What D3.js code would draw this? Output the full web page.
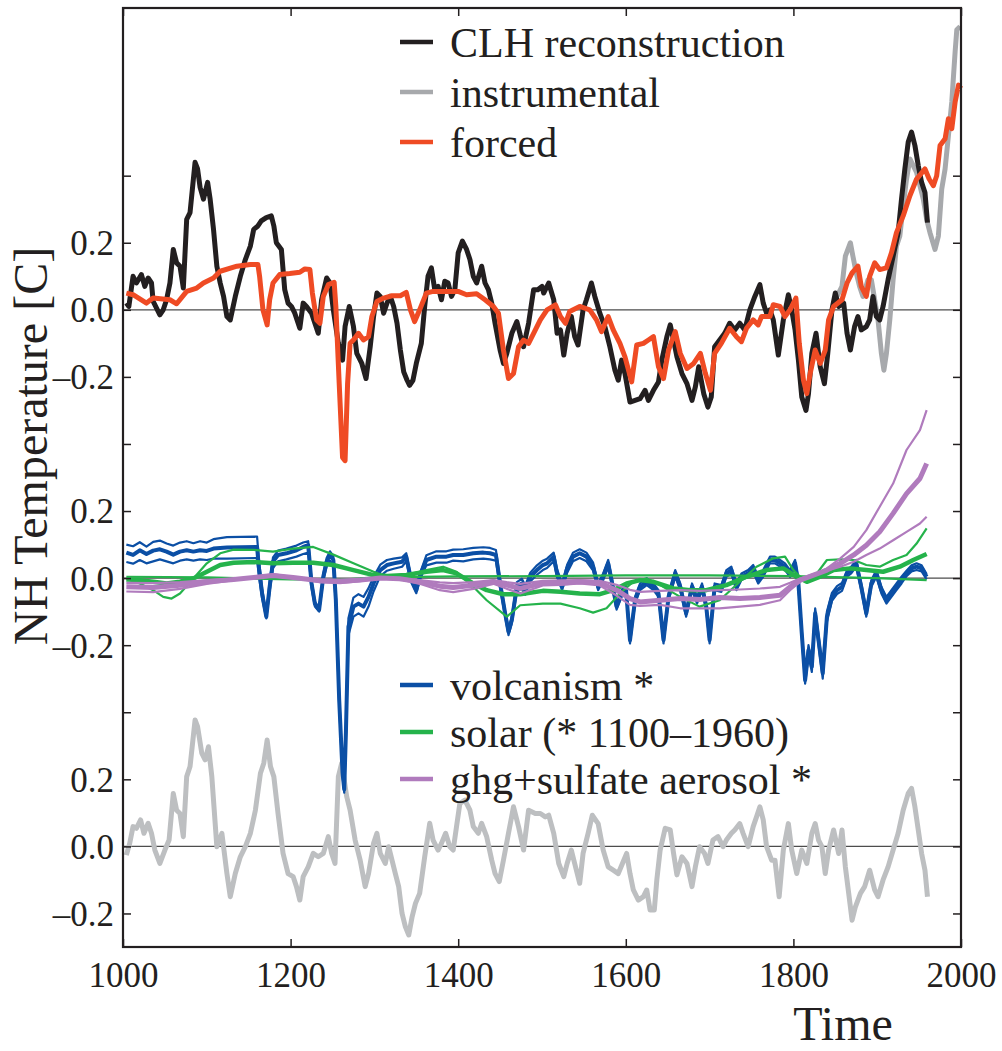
<!DOCTYPE html>
<html>
<head>
<meta charset="utf-8">
<script src="https://cdn.jsdelivr.net/npm/d3@7"></script>
<style>
  body { margin: 0; background: #fff; }
  svg { display: block; }
  svg text { font-family: "Liberation Serif", "DejaVu Serif", "Times New Roman", serif; }
</style>
</head>
<body>
<div id="chart"></div>
<script>
// ---- data, [year, value] ----
const CLH = [[1004,.02],[1007,.01],[1012,.10],[1016,.08],[1022,.105],[1026,.07],[1030,.095],[1034,.08],[1036,.025],[1044,-.015],[1048,0],[1052,.03],[1056,.08],[1060,.18],[1064,.14],[1068,.13],[1072,.065],[1076,.27],[1080,.29],[1086,.44],[1089,.42],[1092,.365],[1096,.33],[1101,.38],[1104,.33],[1108,.24],[1112,.13],[1116,.08],[1120,.04],[1124,-.02],[1128,-.03],[1134,.04],[1140,.10],[1146,.15],[1152,.19],[1156,.24],[1161,.25],[1165,.265],[1171,.275],[1177,.28],[1180,.25],[1183,.20],[1189,.18],[1193,.06],[1197,.02],[1201,.01],[1205,-.01],[1211,-.055],[1215,.02],[1219,.01],[1225,-.01],[1229,-.04],[1233,-.07],[1237,.03],[1243,.095],[1247,.08],[1251,0],[1257,-.10],[1262,-.15],[1265,-.05],[1270,.01],[1275,-.05],[1279,-.13],[1285,-.16],[1290,-.205],[1295,-.11],[1299,-.02],[1303,.05],[1307,.04],[1311,-.01],[1315,.02],[1319,.04],[1323,.01],[1327,-.04],[1331,-.12],[1335,-.185],[1339,-.21],[1342,-.225],[1346,-.21],[1350,-.16],[1356,-.10],[1360,.01],[1364,.10],[1368,.125],[1372,.06],[1376,.07],[1380,.03],[1384,.085],[1388,.08],[1392,.04],[1396,.06],[1400,.17],[1405,.205],[1410,.18],[1414,.15],[1418,.10],[1422,.08],[1428,.13],[1432,.08],[1436,.06],[1440,.02],[1444,-.04],[1450,-.12],[1454,-.16],[1458,-.13],[1464,-.07],[1470,-.035],[1474,-.075],[1478,-.11],[1484,-.04],[1490,.06],[1495,.06],[1500,.07],[1502,.05],[1508,.08],[1514,.03],[1518,-.07],[1522,-.06],[1526,-.135],[1530,-.07],[1535,-.02],[1539,-.08],[1543,-.105],[1549,0],[1553,.03],[1559,.08],[1563,.04],[1569,-.01],[1575,-.05],[1581,-.11],[1587,-.18],[1591,-.21],[1595,-.15],[1599,-.19],[1605,-.275],[1611,-.27],[1617,-.265],[1623,-.24],[1627,-.27],[1633,-.24],[1639,-.215],[1643,-.15],[1649,-.08],[1653,-.045],[1657,-.09],[1661,-.14],[1667,-.19],[1673,-.22],[1679,-.27],[1683,-.23],[1687,-.17],[1693,-.25],[1698,-.29],[1702,-.26],[1706,-.11],[1712,-.09],[1718,-.07],[1724,-.04],[1730,-.06],[1736,-.04],[1742,-.06],[1748,0],[1754,.04],[1760,.075],[1764,.02],[1768,-.01],[1772,0],[1776,-.03],[1782,-.135],[1788,-.03],[1794,.045],[1798,0],[1802,-.06],[1806,-.15],[1810,-.26],[1815,-.30],[1818,-.25],[1822,-.13],[1827,-.07],[1832,-.17],[1837,-.22],[1841,-.13],[1846,0],[1850,.05],[1854,.01],[1860,.02],[1864,-.07],[1868,-.12],[1873,-.05],[1877,-.02],[1881,-.06],[1887,-.05],[1891,-.03],[1895,.04],[1899,-.02],[1903,-.03],[1907,.01],[1913,.09],[1919,.16],[1925,.23],[1929,.33],[1933,.42],[1937,.50],[1941,.53],[1945,.49],[1949,.43],[1953,.38],[1957,.35],[1960,.26]];

const instrumental = [[1852,.04],[1858,.07],[1862,.16],[1868,.20],[1871,.16],[1875,.11],[1879,.07],[1883,.04],[1889,.09],[1893,.09],[1897,.03],[1901,-.03],[1905,-.13],[1908,-.18],[1911,-.13],[1915,-.03],[1919,.09],[1923,.19],[1927,.22],[1931,.31],[1935,.39],[1939,.45],[1943,.43],[1947,.41],[1951,.37],[1955,.33],[1959,.27],[1963,.23],[1969,.18],[1973,.22],[1977,.36],[1981,.42],[1985,.52],[1989,.62],[1993,.77],[1995,.835],[1999,.845]];

const forced = [[1004,.05],[1012,.045],[1028,.02],[1036,.035],[1056,.03],[1064,.018],[1076,.055],[1088,.065],[1096,.08],[1108,.095],[1116,.115],[1136,.13],[1152,.135],[1161,.135],[1163,.10],[1167,0],[1172,-.045],[1175,.03],[1179,.08],[1187,.105],[1199,.108],[1211,.112],[1217,.122],[1223,.12],[1226,.05],[1231,-.03],[1235,-.04],[1239,.04],[1245,.075],[1252,.082],[1254,.01],[1258,-.22],[1262,-.44],[1265,-.45],[1268,-.22],[1271,-.10],[1275,-.09],[1281,-.07],[1287,-.09],[1293,-.08],[1297,-.02],[1303,.025],[1311,.035],[1321,.042],[1331,.042],[1338,.052],[1343,0],[1348,-.035],[1354,0],[1362,.05],[1370,.055],[1386,.055],[1400,.055],[1410,.045],[1422,.048],[1432,.03],[1442,.01],[1448,-.01],[1454,-.12],[1460,-.205],[1466,-.19],[1472,-.11],[1478,-.09],[1484,-.10],[1490,-.07],[1498,-.03],[1506,0],[1516,.015],[1522,-.02],[1528,-.04],[1533,-.005],[1545,.01],[1557,0],[1565,-.03],[1571,-.065],[1579,-.02],[1585,-.06],[1593,-.10],[1599,-.14],[1607,-.215],[1613,-.105],[1621,-.10],[1627,-.09],[1633,-.08],[1639,-.17],[1645,-.205],[1651,-.12],[1659,-.065],[1665,-.13],[1673,-.175],[1681,-.16],[1689,-.13],[1695,-.19],[1701,-.24],[1706,-.13],[1714,-.10],[1724,-.055],[1732,-.08],[1738,-.095],[1744,-.055],[1752,-.03],[1758,-.045],[1762,-.02],[1772,-.02],[1776,.015],[1784,.01],[1790,-.02],[1796,0],[1803,.035],[1807,-.10],[1812,-.21],[1816,-.25],[1820,-.19],[1826,-.12],[1832,-.16],[1838,-.12],[1842,-.03],[1848,.01],[1858,.03],[1864,.08],[1870,.11],[1877,.13],[1881,.07],[1887,.04],[1891,.10],[1897,.14],[1903,.12],[1911,.125],[1917,.17],[1923,.23],[1931,.28],[1939,.34],[1947,.39],[1957,.42],[1962,.39],[1967,.37],[1971,.40],[1975,.49],[1981,.51],[1985,.57],[1989,.54],[1993,.62],[1997,.67],[2000,.66]];

// volcanism rows: [year, lower, best, upper]
const volcanism = [[1004,.048,.076,.100],[1012,.043,.069,.095],[1020,.054,.083,.107],[1028,.044,.072,.094],[1036,.050,.082,.108],[1044,.056,.086,.112],[1052,.050,.079,.103],[1060,.044,.070,.097],[1068,.052,.079,.106],[1076,.056,.083,.110],
[1084,.052,.079,.104],[1092,.056,.083,.110],[1100,.054,.081,.106],[1108,.058,.088,.116],[1124,.058,.091,.122],[1160,.060,.093,.124],[1162,.01,.034,.06],[1166,-.06,-.046,-.03],[1171,-.12,-.115,-.11],[1175,-.04,-.026,-.01],
[1179,.030,.049,.062],[1185,.050,.069,.082],[1195,.056,.074,.088],[1207,.064,.083,.097],[1215,.072,.093,.106],[1221,.076,.098,.110],[1225,-.03,-.016,-.005],[1229,-.085,-.076,-.07],[1234,-.10,-.095,-.09],[1239,-.008,.004,.012],
[1243,.034,.049,.060],[1247,.052,.069,.080],[1251,.038,.054,.066],[1254,-.08,-.066,-.05],[1258,-.38,-.364,-.35],[1262,-.59,-.58,-.57],[1264,-.64,-.63,-.62],[1266,-.48,-.46,-.44],[1269,-.17,-.145,-.12],[1275,-.115,-.085,-.058],
[1281,-.105,-.076,-.048],[1287,-.115,-.085,-.056],[1293,-.085,-.056,-.03],[1299,-.04,-.016,.004],[1307,.006,.024,.040],[1315,.022,.039,.054],[1323,.028,.044,.058],[1333,.034,.049,.062],[1338,.050,.064,.074],[1343,-.008,.004,.012],
[1350,-.045,-.036,-.03],[1354,-.006,.004,.012],[1362,.038,.054,.068],[1374,.046,.064,.080],[1386,.046,.064,.080],[1394,.052,.069,.085],[1406,.050,.069,.086],[1418,.056,.074,.090],[1430,.058,.076,.092],[1438,.056,.074,.090],
[1445,.052,.069,.084],[1450,-.03,-.016,-.005],[1456,-.115,-.105,-.098],[1460,-.17,-.16,-.15],[1464,-.135,-.125,-.115],[1470,-.04,-.026,-.012],[1476,-.032,-.016,-.002],[1480,-.05,-.036,-.022],[1486,-.01,.004,.016],[1494,.010,.024,.038],
[1501,.024,.039,.052],[1506,.030,.044,.058],[1514,.050,.064,.076],[1518,.002,.014,.026],[1524,-.036,-.026,-.016],[1530,.016,.029,.040],[1537,.050,.064,.076],[1545,.060,.074,.086],[1553,.050,.064,.076],[1561,.022,.034,.046],
[1567,-.036,-.026,-.016],[1573,-.006,.004,.014],[1579,.032,.044,.054],[1583,-.016,-.006,.004],[1589,-.094,-.085,-.078],[1595,-.056,-.046,-.036],[1600,-.036,-.026,-.016],[1605,-.195,-.185,-.175],[1611,-.076,-.066,-.056],[1617,-.036,-.026,-.016],
[1625,-.021,-.011,-.001],[1633,-.036,-.026,-.016],[1639,-.056,-.046,-.036],[1645,-.195,-.185,-.175],[1651,-.066,-.056,-.046],[1659,.004,.014,.024],[1665,-.036,-.026,-.016],[1672,-.115,-.105,-.095],[1679,-.036,-.026,-.016],[1685,-.076,-.066,-.056],
[1691,-.036,-.026,-.016],[1696,-.095,-.085,-.075],[1700,-.195,-.185,-.175],[1706,-.036,-.026,-.016],[1714,-.041,-.031,-.021],[1720,.004,.014,.024],[1726,.014,.024,.034],[1732,-.036,-.026,-.016],[1738,-.006,.004,.014],[1746,.004,.014,.024],
[1752,.019,.029,.039],[1758,-.016,-.006,.004],[1764,.004,.014,.024],[1772,.044,.054,.064],[1778,.044,.054,.064],[1784,.034,.044,.054],[1790,.024,.034,.044],[1796,.004,.014,.024],[1802,.034,.044,.054],[1806,-.026,-.016,-.006],
[1810,-.175,-.165,-.155],[1814,-.315,-.304,-.29],[1818,-.23,-.215,-.20],[1822,-.28,-.264,-.25],[1826,-.12,-.105,-.09],[1830,-.20,-.185,-.17],[1835,-.30,-.284,-.27],[1840,-.13,-.115,-.10],[1846,-.068,-.056,-.044],[1852,-.048,-.036,-.024],
[1858,-.038,-.026,-.014],[1864,.004,.014,.024],[1869,.014,.024,.034],[1875,.034,.044,.054],[1881,-.036,-.026,-.016],[1887,-.115,-.105,-.095],[1893,-.026,-.016,-.006],[1899,.004,.014,.024],[1905,-.046,-.036,-.026],[1911,-.076,-.066,-.056],
[1917,-.056,-.046,-.036],[1923,-.036,-.026,-.016],[1929,-.016,-.006,.004],[1935,.006,.014,.022],[1941,.020,.029,.038],[1947,.024,.034,.044],[1953,.020,.029,.038],[1959,-.004,.004,.012]];

const solarBest = [[1004,-.004],[1020,-.006],[1036,-.011],[1052,-.016],[1068,-.011],[1084,-.001],[1100,.019],[1116,.039],[1132,.046],[1156,.048],[1179,.044],[1203,.046],[1227,.046],[1251,.039],[1275,.024],[1299,.009],[1315,.006],[1338,.009],[1362,.019],[1382,.024],[1398,.014],[1418,-.016],[1434,-.036],[1454,-.048],[1474,-.048],[1501,-.038],[1522,-.041],[1545,-.046],[1569,-.048],[1585,-.036],[1601,-.016],[1617,-.006],[1633,-.011],[1657,-.031],[1677,-.036],[1696,-.036],[1720,-.021],[1744,.004],[1768,.024],[1788,.029],[1804,.004],[1816,-.011],[1832,.004],[1848,.024],[1868,.029],[1887,.024],[1907,.019],[1927,.034],[1943,.054],[1959,.072]];
const solarHigh = [[1004,-.001],[1020,-.016],[1036,-.036],[1048,-.056],[1058,-.061],[1068,-.046],[1084,-.001],[1100,.044],[1116,.074],[1132,.085],[1156,.084],[1179,.079],[1203,.088],[1227,.093],[1251,.07],[1275,.044],[1299,.019],[1315,.004],[1338,.009],[1362,.024],[1382,.034],[1398,.019],[1418,-.026],[1434,-.066],[1458,-.115],[1474,-.081],[1501,-.076],[1522,-.076],[1545,-.09],[1561,-.103],[1577,-.09],[1593,-.046],[1609,-.011],[1625,-.001],[1641,-.021],[1665,-.056],[1688,-.085],[1712,-.066],[1736,-.011],[1756,.034],[1776,.059],[1790,.064],[1800,.024],[1812,-.006],[1828,.014],[1840,.054],[1856,.056],[1872,.054],[1887,.039],[1903,.034],[1919,.054],[1935,.069],[1947,.103],[1959,.148]];
const solarLow = [[1004,.004],[1100,.002],[1200,-.004],[1260,-.005],[1300,.002],[1400,.005],[1500,.006],[1600,.008],[1700,.008],[1800,.006],[1900,0],[1959,-.006]];

// ghg+sulfate rows: [year, low scaling, best, high scaling]
const ghgAerosol = [[1004,-.014,-.026,-.04],[1036,-.015,-.028,-.042],[1068,-.012,-.021,-.032],[1100,-.006,-.011,-.017],[1132,-.002,-.004,-.006],[1164,.002,.004,.006],[1179,.004,.008,.012],[1203,.001,.002,.003],[1235,-.004,-.008,-.012],[1259,-.005,-.01,-.015],[1283,-.003,-.006,-.009],[1307,0,0,0],[1330,-.001,-.002,-.003],[1354,-.006,-.011,-.017],[1378,-.013,-.024,-.036],[1394,-.015,-.028,-.042],[1418,-.012,-.021,-.032],[1442,-.006,-.011,-.017],[1458,-.012,-.021,-.032],[1474,-.017,-.031,-.046],[1501,-.008,-.015,-.022],[1522,-.007,-.015,-.02],[1545,-.006,-.011,-.016],[1569,-.008,-.014,-.022],[1589,-.02,-.036,-.052],[1605,-.035,-.061,-.08],[1617,-.041,-.071,-.083],[1641,-.038,-.066,-.08],[1665,-.036,-.061,-.09],[1688,-.038,-.064,-.09],[1712,-.036,-.058,-.09],[1736,-.034,-.061,-.085],[1760,-.031,-.058,-.08],[1784,-.026,-.051,-.066],[1796,-.014,-.026,-.036],[1808,-.001,-.006,-.011],[1824,.012,.009,.009],[1840,.022,.024,.029],[1856,.034,.044,.059],[1872,.049,.069,.093],[1887,.069,.098,.143],[1903,.088,.138,.213],[1919,.113,.193,.282],[1935,.138,.252,.382],[1951,.163,.297,.441],[1959,.183,.342,.501]];

// residual (lower panel)
const residual = [[1004,-.026],[1008,.009],[1012,.059],[1016,.054],[1021,.079],[1025,.039],[1030,.069],[1034,.039],[1038,-.011],[1044,-.051],[1050,-.011],[1055,.019],[1060,.158],[1064,.108],[1068,.098],[1072,.029],[1076,.208],[1080,.238],[1086,.377],[1089,.357],[1094,.278],[1098,.258],[1102,.297],[1106,.208],[1112,-.001],[1118,.039],[1124,-.081],[1128,-.15],[1134,-.081],[1140,-.031],[1146,-.001],[1152,.039],[1158,.108],[1164,.218],[1168,.248],[1172,.317],[1176,.238],[1180,.208],[1185,.098],[1191,-.021],[1197,-.081],[1203,-.09],[1207,-.12],[1211,-.16],[1215,-.09],[1221,-.061],[1227,-.021],[1233,-.031],[1239,-.021],[1245,.029],[1249,-.021],[1253,-.051],[1257,.208],[1261,.248],[1267,.148],[1271,.108],[1277,.019],[1283,-.041],[1289,-.12],[1293,-.081],[1299,.009],[1303,.039],[1307,-.021],[1313,-.051],[1317,-.001],[1321,-.041],[1325,-.081],[1329,-.12],[1333,-.2],[1337,-.24],[1341,-.264],[1345,-.21],[1349,-.17],[1354,-.14],[1360,-.031],[1366,.069],[1370,.019],[1376,-.011],[1380,.009],[1385,.039],[1390,-.001],[1394,-.011],[1398,.059],[1402,.128],[1408,.138],[1414,.108],[1418,.059],[1424,.039],[1428,.069],[1434,.029],[1440,-.041],[1444,-.081],[1449,-.105],[1454,-.041],[1460,.039],[1466,.118],[1472,.059],[1478,-.011],[1484,.108],[1492,.098],[1498,.098],[1504,.088],[1508,.093],[1514,.039],[1520,-.051],[1526,-.09],[1530,-.051],[1535,-.011],[1539,-.051],[1545,-.11],[1549,-.021],[1555,.039],[1560,.093],[1567,.068],[1573,-.011],[1579,-.061],[1585,-.071],[1591,-.081],[1596,-.051],[1601,-.021],[1605,-.081],[1609,-.13],[1615,-.16],[1621,-.15],[1625,-.13],[1629,-.19],[1634,-.19],[1637,-.10],[1641,-.011],[1647,.054],[1653,.049],[1657,-.021],[1661,-.085],[1667,-.031],[1673,-.051],[1679,-.12],[1683,-.061],[1688,-.001],[1694,-.021],[1698,-.051],[1704,.019],[1710,.029],[1716,-.001],[1720,.019],[1726,.039],[1730,.049],[1736,.068],[1740,.039],[1746,-.001],[1752,.059],[1756,.088],[1760,.118],[1764,.079],[1768,-.001],[1774,-.041],[1778,-.041],[1783,-.15],[1788,-.011],[1794,.068],[1798,-.011],[1804,-.081],[1810,-.011],[1816,-.051],[1822,.039],[1826,.068],[1830,.019],[1834,-.001],[1838,-.081],[1842,-.011],[1848,.049],[1854,-.021],[1858,.049],[1862,-.061],[1866,-.14],[1870,-.22],[1874,-.18],[1880,-.14],[1885,-.12],[1891,-.071],[1897,-.13],[1901,-.15],[1907,-.10],[1913,-.061],[1919,-.011],[1925,.039],[1931,.108],[1937,.158],[1941,.173],[1945,.118],[1949,.049],[1953,-.021],[1957,-.071],[1960,-.15]];

const xTicks = [1000, 1200, 1400, 1600, 1800, 2000];
const yTicks = [-0.2, 0, 0.2, 0.4, 0.6, 0.8, 1.0, 1.2, 1.4, 1.6, 1.8, 2.0];
// panel zero levels on the stacked axis
const OFFSET = { top: 1.6, mid: 0.8, bottom: 0 };

const legendTop = ["CLH reconstruction", "instrumental", "forced"];
const legendBottom = ["volcanism *", "solar (* 1100\u20131960)", "ghg+sulfate aerosol *"];

// ---- layout ----
const W = 1002, H = 1051;
const FRAME = { left: 123, right: 961, top: 8, bottom: 947 };
const C = {
    ink: "#231f20", black: "#231f20", instr: "#a7a9ac", forced: "#ef4b24",
    blue: "#0b4fa5", green: "#25b34b", purple: "#b07bbd", resid: "#bdbfc1", zero: "#4d4d4d"
};

const svg = d3.select("#chart").append("svg")
    .attr("width", W).attr("height", H);

const x = d3.scaleLinear().domain([1000, 2000]).range([FRAME.left, FRAME.right]);
const y = d3.scaleLinear().domain([-0.3, 2.5]).range([FRAME.bottom, FRAME.top]);

// zero lines
svg.append("g").selectAll("line")
    .data([OFFSET.top, OFFSET.mid, OFFSET.bottom])
    .enter().append("line")
    .attr("x1", FRAME.left).attr("x2", FRAME.right)
    .attr("y1", d => y(d)).attr("y2", d => y(d))
    .attr("stroke", C.zero).attr("stroke-width", 1.3);

function drawLine(data, off, color, width) {
    const line = d3.line().x(d => x(d[0])).y(d => y(d[1] + off));
    svg.append("path")
        .datum(data)
        .attr("d", line)
        .attr("fill", "none")
        .attr("stroke", color)
        .attr("stroke-width", width)
        .attr("stroke-linejoin", "round")
        .attr("stroke-linecap", "butt");
}
function col(rows, i) { return rows.map(r => [r[0], r[i]]); }

// bottom panel
drawLine(residual, OFFSET.bottom, C.resid, 5);

// top panel
drawLine(instrumental, OFFSET.top, C.instr, 5);
drawLine(CLH, OFFSET.top, C.black, 5);
drawLine(forced, OFFSET.top, C.forced, 5);

// middle panel
drawLine(col(volcanism, 1), OFFSET.mid, C.blue, 2.2);
drawLine(col(volcanism, 3), OFFSET.mid, C.blue, 2.2);
drawLine(col(volcanism, 2), OFFSET.mid, C.blue, 4);
drawLine(solarLow, OFFSET.mid, C.green, 2.2);
drawLine(solarHigh, OFFSET.mid, C.green, 2.2);
drawLine(solarBest, OFFSET.mid, C.green, 4.5);
drawLine(col(ghgAerosol, 1), OFFSET.mid, C.purple, 2.2);
drawLine(col(ghgAerosol, 3), OFFSET.mid, C.purple, 2.2);
drawLine(col(ghgAerosol, 2), OFFSET.mid, C.purple, 5);

// axes (inward ticks)
function panelLabel(v) {
    const r = Math.round(v * 10) / 10;
    const rel = [[1.6, [1.4, 1.6, 1.8]], [0.8, [0.6, 0.8, 1.0]], [0, [-0.2, 0, 0.2]]];
    for (const [o, vals] of rel) {
        if (vals.some(t => Math.abs(t - r) < 1e-6)) {
            const d = Math.round((r - o) * 10) / 10;
            return (d < 0 ? "\u2013" : "") + Math.abs(d).toFixed(1);
        }
    }
    return "";
}

const gLeft = svg.append("g").attr("transform", `translate(${FRAME.left},0)`)
    .call(d3.axisLeft(y).tickValues(yTicks).tickSize(-8).tickPadding(9).tickFormat(panelLabel));
const gRight = svg.append("g").attr("transform", `translate(${FRAME.right},0)`)
    .call(d3.axisRight(y).tickValues(yTicks).tickSize(-8).tickFormat(""));
const gBottom = svg.append("g").attr("transform", `translate(0,${FRAME.bottom})`)
    .call(d3.axisBottom(x).tickValues(xTicks).tickSize(-8).tickFormat(d3.format("d")));
const gTop = svg.append("g").attr("transform", `translate(0,${FRAME.top})`)
    .call(d3.axisTop(x).tickValues(xTicks).tickSize(-8).tickFormat(""));

[gLeft, gRight, gBottom, gTop].forEach(g => {
    g.attr("font-family", null);
    g.select(".domain").remove();
    g.selectAll(".tick line").attr("stroke", C.ink).attr("stroke-width", 1.5);
    g.selectAll("text").attr("font-size", 35).attr("fill", C.ink);
});
gLeft.selectAll("text").attr("dy", "0.34em");
gBottom.selectAll("text").attr("y", 40).attr("dy", null);

// frame
svg.append("rect")
    .attr("x", FRAME.left).attr("y", FRAME.top)
    .attr("width", FRAME.right - FRAME.left).attr("height", FRAME.bottom - FRAME.top)
    .attr("fill", "none").attr("stroke", C.ink).attr("stroke-width", 2.2);

// axis titles
svg.append("text")
    .attr("transform", "translate(47,446) rotate(-90)")
    .attr("text-anchor", "middle")
    .attr("font-size", 48).attr("fill", C.ink)
    .text("NH Temperature [C]");
svg.append("text")
    .attr("x", 843).attr("y", 1040)
    .attr("text-anchor", "middle")
    .attr("font-size", 48).attr("fill", C.ink)
    .text("Time");

// legends
function legend(labels, colors, y0, step) {
    const g = svg.append("g");
    labels.forEach((lab, i) => {
        const yy = y0 + i * step;
        g.append("line").attr("x1", 400).attr("x2", 433).attr("y1", yy).attr("y2", yy)
            .attr("stroke", colors[i]).attr("stroke-width", 4.5);
        g.append("text").attr("x", 450).attr("y", yy + 15)
            .attr("font-size", 42).attr("fill", C.ink)
            .text(lab);
    });
}
legend(legendTop, [C.black, C.instr, C.forced], 42, 50);
legend(legendBottom, [C.blue, C.green, C.purple], 685, 47);
</script>
</body>
</html>
